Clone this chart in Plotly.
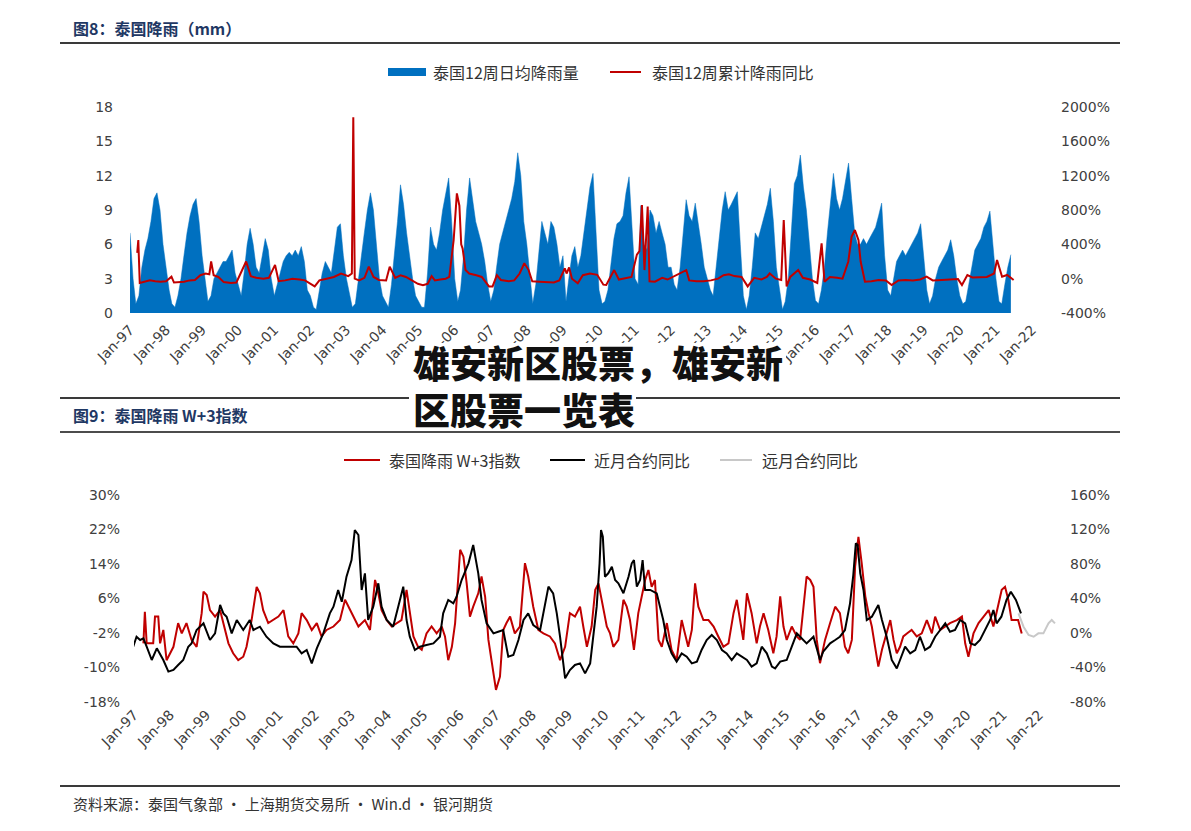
import plotly.graph_objects as go
import pandas as pd
from datetime import datetime, timedelta

# ---------------- DATA ----------------
# Top chart: Thailand 12-week daily average rainfall (mm), monthly, Jan-1997 .. Jun-2021
rain_avg = [
    7.0, 3.0, 0.8, 1.5, 4.0, 5.5, 6.5, 8.0, 10.0, 10.5, 9.0, 6.0,   # 1997
    4.0, 2.0, 0.8, 0.5, 1.5, 3.0, 5.0, 7.0, 8.5, 9.5, 10.0, 8.0,    # 1998
    5.0, 3.0, 1.0, 1.5, 3.0, 3.5, 4.0, 4.5, 4.5, 5.0, 5.5, 3.5,     # 1999
    2.5, 1.5, 3.5, 6.0, 7.4, 6.0, 4.0, 3.5, 5.0, 6.5, 5.5, 3.0,     # 2000
    1.5, 2.5, 3.5, 4.5, 5.0, 5.3, 5.0, 5.5, 5.0, 5.8, 4.5, 2.0,     # 2001
    1.5, 0.5, 0.3, 2.0, 3.5, 4.5, 4.0, 3.5, 5.5, 7.5, 7.8, 5.0,     # 2002
    3.0, 1.5, 0.5, 0.8, 3.0, 5.0, 7.0, 9.0, 10.5, 9.0, 6.0, 3.0,    # 2003
    1.5, 1.0, 0.5, 2.5, 5.0, 8.0, 11.2, 9.5, 7.0, 5.0, 3.0, 1.5,    # 2004
    1.0, 0.5, 0.5, 3.5, 7.5, 6.0, 5.5, 7.0, 9.0, 10.5, 11.8, 8.0,   # 2005
    3.0, 1.0, 2.0, 5.0, 9.0, 11.8, 10.0, 8.0, 7.0, 6.0, 4.5, 2.5,   # 2006
    1.0, 2.0, 4.0, 6.0, 7.0, 8.0, 9.0, 10.0, 11.5, 14.0, 12.0, 8.0, # 2007
    6.0, 3.0, 0.8, 2.5, 5.0, 8.0, 7.0, 6.0, 8.0, 7.5, 6.0, 4.0,     # 2008
    5.0, 1.0, 3.0, 5.0, 5.8, 4.0, 5.0, 7.0, 9.0, 11.0, 12.2, 7.0,   # 2009
    2.0, 0.8, 1.0, 2.0, 4.0, 6.5, 7.8, 8.0, 8.5, 10.5, 11.9, 7.0,   # 2010
    3.0, 2.5, 9.4, 6.0, 5.5, 9.0, 8.5, 7.0, 8.0, 7.0, 6.0, 4.0,     # 2011
    4.0, 2.5, 2.0, 4.0, 7.0, 9.9, 8.5, 8.0, 9.6, 8.0, 6.0, 4.0,     # 2012
    3.0, 2.0, 1.5, 4.0, 6.0, 9.0, 10.6, 9.0, 9.5, 10.0, 10.6, 6.0,  # 2013
    1.5, 0.3, 1.5, 4.0, 7.0, 6.5, 7.5, 8.5, 9.5, 10.9, 8.0, 4.0,    # 2014
    2.0, 0.3, 1.0, 3.0, 7.0, 11.3, 12.0, 13.8, 11.0, 9.0, 6.0, 3.0, # 2015
    1.1, 0.8, 2.0, 4.0, 7.0, 10.0, 12.2, 10.0, 9.0, 10.0, 11.5, 13.1, # 2016
    10.0, 7.0, 6.0, 6.0, 6.5, 6.0, 6.5, 7.0, 7.5, 8.5, 9.6, 5.0,    # 2017
    2.0, 1.5, 3.0, 4.5, 5.0, 5.5, 5.0, 5.5, 6.0, 6.5, 7.0, 7.8,     # 2018
    5.0, 2.0, 0.8, 1.5, 3.0, 4.0, 4.5, 5.0, 5.5, 6.4, 5.0, 3.0,     # 2019
    1.5, 0.8, 1.0, 2.5, 4.0, 5.5, 6.0, 6.5, 7.5, 8.0, 8.9, 6.0,     # 2020
    3.0, 1.0, 0.8, 2.5, 4.0, 5.1,                                   # 2021
]

# Top chart: 12-week cumulative rainfall YoY (%), (decimal year, value)
yoy_t = [1997.20, 1997.23, 1997.27, 1997.40, 1997.55, 1997.70, 1997.85, 1998.00, 1998.15, 1998.22,
         1998.35, 1998.50, 1998.65, 1998.80, 1998.95, 1999.10, 1999.20, 1999.25, 1999.32, 1999.45,
         1999.60, 1999.80, 1999.95, 2000.10, 2000.22, 2000.35, 2000.50, 2000.70, 2000.85, 2001.02,
         2001.12, 2001.30, 2001.50, 2001.70, 2001.85, 2002.12, 2002.25, 2002.45, 2002.65, 2002.85,
         2003.05, 2003.15, 2003.19, 2003.23, 2003.35, 2003.50, 2003.62, 2003.75, 2003.90, 2004.10,
         2004.20, 2004.35, 2004.50, 2004.65, 2004.80, 2004.98, 2005.12, 2005.25, 2005.36, 2005.45,
         2005.60, 2005.75, 2005.85, 2005.97, 2006.06, 2006.10, 2006.13, 2006.18, 2006.22, 2006.30,
         2006.40, 2006.60, 2006.75, 2006.95, 2007.05, 2007.17, 2007.28, 2007.50, 2007.65, 2007.80,
         2007.93, 2008.05, 2008.15, 2008.35, 2008.55, 2008.75, 2008.90, 2009.05, 2009.10, 2009.17,
         2009.25, 2009.41, 2009.55, 2009.75, 2009.95, 2010.12, 2010.20, 2010.42, 2010.55, 2010.75,
         2010.90, 2011.05, 2011.12, 2011.19, 2011.26, 2011.35, 2011.40, 2011.55, 2011.75, 2011.90,
         2012.05, 2012.42, 2012.50, 2012.70, 2012.90, 2013.10, 2013.30, 2013.45, 2013.60, 2013.75,
         2013.95, 2014.12, 2014.30, 2014.50, 2014.65, 2014.73, 2014.90, 2015.05, 2015.12, 2015.20,
         2015.30, 2015.52, 2015.65, 2015.85, 2016.05, 2016.17, 2016.25, 2016.40, 2016.60, 2016.75,
         2016.91, 2017.00, 2017.09, 2017.19, 2017.25, 2017.37, 2017.55, 2017.75, 2017.95, 2018.11,
         2018.30, 2018.50, 2018.70, 2018.90, 2019.08, 2019.25, 2019.50, 2019.75, 2019.95, 2020.06,
         2020.21, 2020.35, 2020.55, 2020.75, 2020.95, 2021.03, 2021.17, 2021.31, 2021.49]
yoy_v = [300, 450, -50, -35, -20, -30, -35, -30, 23, -45,
         -40, -35, -20, -15, 40, 60, 50, 200, 40, 20,
         -40, -50, -45, 100, 200, 30, 10, 0, 10, 160,
         -30, -20, 0, -10, -20, -90, -20, 0, 20, 60,
         30, 60, 1880, 0, -20, 10, 140, 20, -15, -20,
         140, 10, 40, 20, -20, -60, -75, -60, 30, -20,
         -10, 0, 20, 450, 994, 900, 850, 400, 350, 100,
         60, 40, 20, -90, -90, 40, -15, -30, -20, 60,
         180, 100, -30, -35, -40, -45, -20, 120, 60, 130,
         0, -54, 40, 60, 45, -70, -74, 100, -10, 10,
         20, 280, 320, 858, 100, 840, -30, -35, 10, -10,
         20, 100, -20, -30, -30, -20, 0, 40, 50, 30,
         20, -90, 10, -10, 20, 60, 0, -15, 684, -90,
         20, 100, 10, -10, -50, 412, -35, 20, 10, 0,
         200, 490, 567, 450, 200, -35, -30, -15, -20, -74,
         -20, -15, -20, -10, 23, -20, -15, -10, -5, -74,
         43, 15, 20, 20, 60, 217, 23, 43, -15]

# Bottom chart: Thai rainfall W+3 index (%), (decimal year, value)
w3_t = [1997.26, 1997.30, 1997.35, 1997.53, 1997.58, 1997.67, 1997.72, 1997.81, 1997.90, 1997.99,
        1998.09, 1998.22, 1998.32, 1998.45, 1998.59, 1998.73, 1998.87, 1998.92, 1999.01, 1999.10,
        1999.24, 1999.38, 1999.51, 1999.61, 1999.74, 1999.88, 2000.02, 2000.11, 2000.25, 2000.39,
        2000.48, 2000.57, 2000.71, 2000.85, 2000.99, 2001.13, 2001.26, 2001.40, 2001.54, 2001.63,
        2001.77, 2001.91, 2002.05, 2002.18, 2002.32, 2002.51, 2002.69, 2002.83, 2002.92, 2003.06,
        2003.20, 2003.38, 2003.52, 2003.66, 2003.75, 2003.84, 2003.98, 2004.12, 2004.26, 2004.39,
        2004.53, 2004.62, 2004.72, 2004.85, 2004.95, 2005.08, 2005.22, 2005.36, 2005.50, 2005.59,
        2005.68, 2005.78, 2005.87, 2006.01, 2006.10, 2006.19, 2006.28, 2006.37, 2006.51, 2006.60,
        2006.70, 2006.79, 2006.88, 2007.00, 2007.11, 2007.20, 2007.29, 2007.39, 2007.52, 2007.66,
        2007.80, 2007.89, 2008.03, 2008.17, 2008.31, 2008.49, 2008.63, 2008.77, 2008.91, 2009.04,
        2009.18, 2009.32, 2009.41, 2009.51, 2009.64, 2009.74, 2009.83, 2009.92, 2010.06, 2010.15,
        2010.24, 2010.38, 2010.52, 2010.61, 2010.70, 2010.81, 2010.93, 2011.12, 2011.21, 2011.30,
        2011.39, 2011.49, 2011.58, 2011.72, 2011.85, 2011.99, 2012.13, 2012.22, 2012.31, 2012.41,
        2012.50, 2012.59, 2012.73, 2012.87, 2013.01, 2013.14, 2013.28, 2013.42, 2013.56, 2013.65,
        2013.74, 2013.83, 2013.93, 2014.06, 2014.20, 2014.29, 2014.39, 2014.52, 2014.66, 2014.75,
        2014.85, 2014.94, 2015.03, 2015.17, 2015.31, 2015.40, 2015.58, 2015.68, 2015.77, 2015.86,
        2015.95, 2016.09, 2016.23, 2016.37, 2016.50, 2016.64, 2016.73, 2016.83, 2016.92, 2017.01,
        2017.10, 2017.20, 2017.29, 2017.38, 2017.47, 2017.56, 2017.66, 2017.79, 2017.89, 2017.98,
        2018.07, 2018.16, 2018.25, 2018.35, 2018.48, 2018.62, 2018.76, 2018.90, 2019.04, 2019.13,
        2019.27, 2019.41, 2019.54, 2019.73, 2019.87, 2019.96, 2020.05, 2020.19, 2020.33, 2020.47,
        2020.61, 2020.74, 2020.88, 2020.97, 2021.06, 2021.15, 2021.24, 2021.33, 2021.42, 2021.52]
w3_v = [-4.4, 2.9, -4.4, -4.4, 1.8, 1.8, -4.4, -1.3, -8.3, -6.7,
        -5.2, 0.3, -2.1, 0.3, -3.6, -5.2, 2.6, 7.6, 6.8, 3.3,
        1.8, 3.3, -1.3, -4.4, -6.7, -8.3, -7.5, -5.2, 1.0, 8.7,
        7.2, 3.3, 0.3, 1.0, 1.8, 3.3, -2.8, -4.4, -2.1, 2.6,
        1.0, -1.3, 0.3, -2.8, -1.3, -0.5, 1.0, 5.7, 4.1, 1.8,
        -0.5, 1.0, -1.3, 10.3, 7.2, 3.3, 1.0, -0.5, 0.3, 1.0,
        8.0, 2.6, -2.8, -5.2, -5.9, -2.1, -0.5, -2.1, -0.5, -2.8,
        -8.3, -5.2, 0.3, 17.3, 15.7, 9.5, 1.8, 4.1, 7.2, 11.1,
        6.4, -3.6, -9.0, -15.2, -12.1, -1.3, 0.3, 1.8, -2.1, -0.5,
        14.2, 11.1, 4.1, -1.3, -2.1, -2.8, -4.4, -8.3, -5.2, 2.6,
        1.8, 4.1, -0.5, -5.2, -0.5, 8.0, 9.5, 5.7, -0.5, -2.1,
        -5.2, -3.6, 5.7, 4.1, 1.0, -5.9, 2.6, 10.3, 12.6, 8.7,
        10.3, -3.6, -5.2, 0.3, -5.9, -8.3, 1.0, -2.1, -5.2, -1.3,
        9.5, 4.1, 1.0, 1.0, -0.5, -2.8, -5.2, -4.4, 2.6, 5.7,
        1.0, -3.6, 7.2, 2.6, -4.4, -0.5, 2.6, -1.3, -6.7, -2.8,
        6.5, -0.5, -3.6, -0.5, -2.8, -3.6, 11.1, 10.3, 8.7, -3.6,
        -9.0, -3.6, 0.3, 4.1, 2.6, -5.2, -6.7, -3.6, 13.4, 20.3,
        14.2, 6.5, 2.6, -0.5, -5.2, -9.8, -5.9, -2.1, 1.0, -3.6,
        -6.7, -5.2, -2.8, -2.1, -1.3, -2.8, -2.1, 1.0, -2.1, 1.8,
        -1.3, -0.5, 0.3, 1.0, 1.8, -4.4, -7.5, -2.1, 0.3, 1.8,
        3.3, -0.5, 4.9, 8.0, 8.7, 5.7, 1.0, 1.0, 1.0, -2.1]

# Bottom chart: near-month contract YoY (%), (decimal year, value)
near_t = [1996.98, 1997.07, 1997.17, 1997.26, 1997.35, 1997.49, 1997.63, 1997.81, 1997.95, 1998.09,
          1998.22, 1998.36, 1998.50, 1998.59, 1998.73, 1998.92, 1999.10, 1999.24, 1999.38, 1999.47,
          1999.56, 1999.70, 1999.84, 2000.02, 2000.20, 2000.30, 2000.48, 2000.66, 2000.85, 2001.03,
          2001.22, 2001.49, 2001.63, 2001.77, 2001.91, 2002.05, 2002.23, 2002.41, 2002.51, 2002.64,
          2002.74, 2002.87, 2003.01, 2003.10, 2003.20, 2003.24, 2003.29, 2003.38, 2003.47, 2003.61,
          2003.75, 2003.84, 2003.98, 2004.16, 2004.26, 2004.44, 2004.53, 2004.62, 2004.76, 2004.90,
          2005.08, 2005.27, 2005.45, 2005.54, 2005.68, 2005.82, 2005.91, 2006.05, 2006.24, 2006.37,
          2006.51, 2006.60, 2006.74, 2006.93, 2007.06, 2007.20, 2007.34, 2007.48, 2007.62, 2007.76,
          2007.89, 2008.03, 2008.22, 2008.35, 2008.45, 2008.58, 2008.68, 2008.77, 2008.86, 2008.91,
          2009.04, 2009.18, 2009.32, 2009.46, 2009.60, 2009.69, 2009.78, 2009.86, 2009.90, 2009.95,
          2010.01, 2010.10, 2010.20, 2010.29, 2010.38, 2010.52, 2010.66, 2010.75, 2010.81, 2010.89,
          2010.98, 2011.05, 2011.12, 2011.26, 2011.44, 2011.53, 2011.62, 2011.72, 2011.85, 2011.99,
          2012.13, 2012.27, 2012.41, 2012.55, 2012.68, 2012.82, 2012.96, 2013.10, 2013.24, 2013.37,
          2013.51, 2013.65, 2013.79, 2013.93, 2014.06, 2014.20, 2014.34, 2014.48, 2014.62, 2014.71,
          2014.85, 2015.03, 2015.17, 2015.31, 2015.40, 2015.58, 2015.77, 2015.95, 2016.04, 2016.23,
          2016.37, 2016.50, 2016.64, 2016.78, 2016.87, 2016.94, 2016.99, 2017.06, 2017.15, 2017.24,
          2017.38, 2017.56, 2017.66, 2017.79, 2017.93, 2018.07, 2018.16, 2018.30, 2018.44, 2018.58,
          2018.71, 2018.85, 2018.99, 2019.13, 2019.27, 2019.41, 2019.54, 2019.68, 2019.82, 2019.96,
          2020.10, 2020.23, 2020.37, 2020.51, 2020.65, 2020.74, 2020.83, 2020.96, 2021.10, 2021.22,
          2021.36, 2021.50]
near_v = [-15.9, -4.3, -8.1, -6.2, -15.9, -31.3, -17.8, -31.3, -44.8, -42.9,
          -37.1, -31.3, -15.9, -12.0, 3.5, 11.2, -8.1, -0.4, 32.5, 22.8,
          18.9, -0.4, 15.1, 3.5, 15.1, 3.5, 7.3, -4.3, -12.0, -15.9,
          -15.9, -15.9, -23.6, -19.7, -35.2, -17.8, -0.4, 22.8, 30.5, 49.9,
          36.3, 65.3, 84.6, 119.4, 113.6, 84.6, 49.9, 69.2, 15.1, 30.5,
          57.6, 30.5, 15.1, 7.3, 22.8, 53.7, 15.1, -4.3, -19.7, -15.9,
          -13.9, -12.0, -4.3, 22.8, 38.3, 34.4, 42.1, 61.4, 80.8, 102.0,
          69.2, 38.3, 11.2, -0.4, 1.5, 3.5, -27.4, -25.5, -8.1, 15.1,
          22.8, 9.3, 3.5, 30.5, 53.7, 46.0, 22.8, -4.3, -35.2, -52.6,
          -42.9, -37.1, -35.2, -46.8, -35.2, -4.3, 30.5, 80.8, 119.4, 111.7,
          65.3, 69.2, 76.9, 61.4, 57.6, 46.0, 65.3, 80.8, 84.6, 53.7,
          61.4, 84.6, 49.9, 49.9, 46.0, 30.5, 15.1, -8.1, -23.6, -33.2,
          -23.6, -27.4, -35.2, -33.2, -19.7, -8.1, -2.3, -8.1, -19.7, -23.6,
          -31.3, -23.6, -27.4, -31.3, -39.0, -35.2, -15.9, -23.6, -39.0, -41.0,
          -33.2, -31.3, -15.9, -0.4, -4.3, -12.0, -4.3, -31.3, -21.6, -12.0,
          -8.1, -4.3, 3.5, 34.4, 67.2, 104.0, 102.0, 69.2, 49.9, 15.1,
          18.9, 32.5, 15.1, -4.3, -31.3, -41.0, -31.3, -15.9, -23.6, -19.7,
          -4.3, -19.7, -15.9, -4.3, 3.5, 11.2, 1.5, 3.5, 15.1, 11.2,
          -12.0, -13.9, -8.1, 3.5, 15.1, 26.7, 11.2, 18.9, 38.3, 47.9,
          38.3, 22.8]

# Bottom chart: far-month contract YoY (%), (decimal year, value)
far_t = [2021.43, 2021.57, 2021.71, 2021.85, 2021.98, 2022.12, 2022.26, 2022.35, 2022.44]
far_v = [22.8, 7.3, -2.3, -4.3, -0.4, -0.4, 11.2, 15.1, 11.2]

# Axis ticks
year_ticks = list(range(1997, 2023))
top_left_ticks = [0, 3, 6, 9, 12, 15, 18]
top_right_ticks = [-400, 0, 400, 800, 1200, 1600, 2000]
bot_left_ticks = [-18, -10, -2, 6, 14, 22, 30]
bot_right_ticks = [-80, -40, 0, 40, 80, 120, 160]

# ---------------- HELPERS ----------------
W, H = 1191, 831


def dy(y):
    yi = int(y)
    return datetime(yi, 1, 1) + timedelta(days=(y - yi) * 365.25)


def PX(x):
    return x / W


def PY(y):
    return 1 - y / H


rain_dates = pd.date_range("1997-01-01", periods=len(rain_avg), freq="MS")
BLUE = "#0070C0"
RED = "#C00000"
GRAY = "#C8C8C8"
TXT = "#404040"
TICKFONT = dict(family="DejaVu Sans", size=14, color=TXT)
CJK = "Noto Sans CJK SC"

fig = go.Figure()
fig.add_trace(go.Scatter(x=rain_dates, y=rain_avg, mode="lines", fill="tozeroy",
                         line=dict(color=BLUE, width=0.5), fillcolor=BLUE,
                         xaxis="x", yaxis="y", name="泰国12周日均降雨量"))
fig.add_trace(go.Scatter(x=[dy(t) for t in yoy_t], y=yoy_v, mode="lines",
                         line=dict(color=RED, width=2), xaxis="x", yaxis="y2",
                         name="泰国12周累计降雨同比"))
fig.add_trace(go.Scatter(x=[dy(t) for t in far_t], y=far_v, mode="lines",
                         line=dict(color=GRAY, width=2), xaxis="x2", yaxis="y4",
                         name="远月合约同比"))
fig.add_trace(go.Scatter(x=[dy(t) for t in w3_t], y=w3_v, mode="lines",
                         line=dict(color=RED, width=2), xaxis="x2", yaxis="y3",
                         name="泰国降雨 W+3指数"))
fig.add_trace(go.Scatter(x=[dy(t) for t in near_t], y=near_v, mode="lines",
                         line=dict(color="#000000", width=2), xaxis="x2", yaxis="y4",
                         name="近月合约同比"))

xcommon = dict(type="date", tickvals=[f"{y}-01-01" for y in year_ticks],
               ticktext=[f"Jan-{str(y)[2:]}" for y in year_ticks],
               tickangle=-45, showgrid=False, zeroline=False, showline=False,
               ticks="", tickfont=TICKFONT, automargin=False)
ycommon = dict(showgrid=False, zeroline=False, showline=False, ticks="", tickfont=TICKFONT,
               automargin=False)

fig.update_layout(
    width=W, height=H, margin=dict(l=0, r=0, t=0, b=0, pad=0, autoexpand=False),
    autosize=False,
    paper_bgcolor="white", plot_bgcolor="white", showlegend=False,
    xaxis=dict(xcommon, domain=[PX(130), PX(1032)], range=["1997-01-01", "2022-01-01"],
               anchor="y", ticklabelstandoff=5),
    yaxis=dict(ycommon, domain=[PY(313), PY(107)], range=[0, 18], tickvals=top_left_ticks,
               anchor="x", ticklabelstandoff=16),
    yaxis2=dict(ycommon, overlaying="y", side="right", anchor="x", range=[-400, 2000],
                tickvals=top_right_ticks, ticktext=[f"{v}%" for v in top_right_ticks],
                ticklabelstandoff=28),
    xaxis2=dict(xcommon, domain=[PX(134), PX(1057)], range=["1997-01-01", "2022-07-01"],
                anchor="y3", ticklabelstandoff=1),
    yaxis3=dict(ycommon, domain=[PY(702), PY(495)], range=[-18, 30], tickvals=bot_left_ticks,
                ticktext=[f"{v}%" for v in bot_left_ticks], anchor="x2", ticklabelstandoff=13),
    yaxis4=dict(ycommon, overlaying="y3", side="right", anchor="x2", range=[-80, 160],
                tickvals=bot_right_ticks, ticktext=[f"{v}%" for v in bot_right_ticks],
                ticklabelstandoff=12),
)

shapes = []
ann = []
# header / footer rules
for y, w, c in [(43, 2, "#3a3a3a"), (398, 2, "#3a3a3a"), (432, 1.5, "#111111"), (786, 2, "#3a3a3a")]:
    shapes.append(dict(type="line", xref="paper", yref="paper", x0=PX(60), x1=PX(1120),
                       y0=PY(y), y1=PY(y), line=dict(color=c, width=w)))

TITLE_C = "#1F3864"
ann.append(dict(text="<b>图8：泰国降雨（mm）</b>", x=PX(71), y=PY(28), xref="paper", yref="paper",
                xanchor="left", yanchor="middle", showarrow=False,
                font=dict(family=CJK, size=16, color=TITLE_C)))
ann.append(dict(text="<b>图9：泰国降雨 W+3指数</b>", x=PX(71), y=PY(415), xref="paper", yref="paper",
                xanchor="left", yanchor="middle", showarrow=False,
                font=dict(family=CJK, size=16, color=TITLE_C)))
ann.append(dict(text="资料来源：泰国气象部 · 上海期货交易所 · Win.d · 银河期货", x=PX(71), y=PY(803),
                xref="paper", yref="paper", xanchor="left", yanchor="middle", showarrow=False,
                font=dict(family=CJK, size=15, color="#333333")))

# manual legends
LEGF = dict(family=CJK, size=16, color="#333333")
shapes.append(dict(type="rect", xref="paper", yref="paper", x0=PX(388), x1=PX(426),
                   y0=PY(76), y1=PY(68), fillcolor=BLUE, line=dict(width=0)))
ann.append(dict(text="泰国12周日均降雨量", x=PX(431), y=PY(72), xref="paper", yref="paper",
                xanchor="left", yanchor="middle", showarrow=False, font=LEGF))
shapes.append(dict(type="line", xref="paper", yref="paper", x0=PX(610), x1=PX(641),
                   y0=PY(72), y1=PY(72), line=dict(color=RED, width=2)))
ann.append(dict(text="泰国12周累计降雨同比", x=PX(650), y=PY(72), xref="paper", yref="paper",
                xanchor="left", yanchor="middle", showarrow=False, font=LEGF))

for x0, x1, tx, col, lab in [(344, 380, 387, RED, "泰国降雨 W+3指数"),
                             (550, 585, 592, "#000000", "近月合约同比"),
                             (720, 752, 760, GRAY, "远月合约同比")]:
    shapes.append(dict(type="line", xref="paper", yref="paper", x0=PX(x0), x1=PX(x1),
                       y0=PY(460), y1=PY(460), line=dict(color=col, width=2)))
    ann.append(dict(text=lab, x=PX(tx), y=PY(460), xref="paper", yref="paper",
                    xanchor="left", yanchor="middle", showarrow=False, font=LEGF))

# overlay watermark: tight white boxes (above axes) + heavy text
for x0, x1, y0, y1 in [(409, 786, 343, 384), (409, 636, 390, 429)]:
    shapes.append(dict(type="rect", xref="paper", yref="paper", layer="above",
                       x0=PX(x0), x1=PX(x1), y0=PY(y1), y1=PY(y0),
                       fillcolor="white", line=dict(width=0)))
WM = dict(family=CJK, size=37, color="#111111", weight=900)
ann.append(dict(text="雄安新区股票，雄安新", x=PX(411), y=PY(362), xref="paper", yref="paper",
                xanchor="left", yanchor="middle", showarrow=False, font=WM))
ann.append(dict(text="区股票一览表", x=PX(411), y=PY(409), xref="paper", yref="paper",
                xanchor="left", yanchor="middle", showarrow=False, font=WM))

fig.update_layout(shapes=shapes, annotations=ann)
fig.write_html("out.html")
